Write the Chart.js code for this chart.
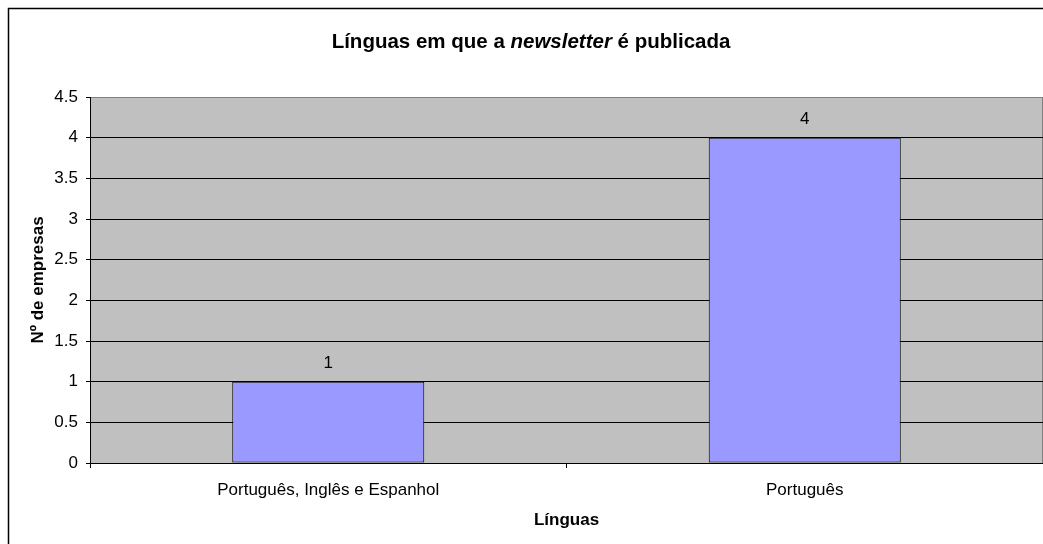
<!DOCTYPE html>
<html>
<head>
<meta charset="utf-8">
<script src="https://cdn.jsdelivr.net/npm/chart.js@4/dist/chart.umd.min.js"></script>
<style>
  body { margin: 0; background: #fff; }
  canvas { display: block; }
</style>
</head>
<body>
<canvas id="chart" width="1043" height="544"></canvas>
<script>
// chart data
const categories = ["Português, Inglês e Espanhol", "Português"];
const empresas = [1, 4];
const yTicks = [0, 0.5, 1, 1.5, 2, 2.5, 3, 3.5, 4, 4.5];

const titleParts = [
  { text: "Línguas em que a ", italic: false },
  { text: "newsletter", italic: true },
  { text: " é publicada", italic: false }
];

const FONT = "'Liberation Sans', Arial, sans-serif";

// background, plot area and outer frame
const backgroundPlugin = {
  id: "background",
  beforeDraw(chart) {
    const ctx = chart.ctx;
    const a = chart.chartArea;
    ctx.save();
    ctx.fillStyle = "#fff";
    ctx.fillRect(0, 0, chart.width, chart.height);
    ctx.strokeStyle = "#000";
    ctx.lineWidth = 1.5;
    ctx.strokeRect(8.5, 8.5, chart.width + 20, chart.height + 20);
    ctx.fillStyle = "#c0c0c0";
    ctx.fillRect(a.left, a.top, a.right - a.left, a.bottom - a.top);
    ctx.strokeStyle = "#808080";
    ctx.lineWidth = 1;
    ctx.strokeRect(a.left + 0.5, a.top + 0.5, a.right - a.left - 1, a.bottom - a.top);
    ctx.restore();
  }
};

// values above the bars and the mixed-style title
const labelsPlugin = {
  id: "labels",
  afterDatasetsDraw(chart) {
    const ctx = chart.ctx;
    const meta = chart.getDatasetMeta(0);
    ctx.save();
    ctx.fillStyle = "#000";
    ctx.font = "17px " + FONT;
    ctx.textAlign = "center";
    ctx.textBaseline = "middle";
    meta.data.forEach((bar, i) => {
      ctx.fillText(String(empresas[i]), bar.x, bar.y - 18);
    });
    ctx.restore();
  },
  afterDraw(chart) {
    const ctx = chart.ctx;
    ctx.save();
    ctx.fillStyle = "#000";
    ctx.textBaseline = "middle";
    ctx.textAlign = "left";
    const fonts = titleParts.map(p => (p.italic ? "italic " : "") + "bold 20.5px " + FONT);
    let total = 0;
    titleParts.forEach((p, i) => {
      ctx.font = fonts[i];
      total += ctx.measureText(p.text).width;
    });
    let x = 531 - total / 2;
    titleParts.forEach((p, i) => {
      ctx.font = fonts[i];
      ctx.fillText(p.text, x, 42);
      x += ctx.measureText(p.text).width;
    });
    ctx.restore();
  }
};

new Chart(document.getElementById("chart").getContext("2d"), {
  type: "bar",
  data: {
    labels: categories,
    datasets: [
      {
        label: "Nº de empresas",
        data: empresas,
        backgroundColor: "#9999ff",
        borderColor: "#000",
        borderWidth: 1,
        borderSkipped: false,
        categoryPercentage: 1,
        barPercentage: 0.403
      }
    ]
  },
  options: {
    responsive: false,
    animation: false,
    layout: { padding: { top: 97, left: 0, right: 0, bottom: 0 } },
    plugins: {
      legend: { display: false },
      title: { display: false },
      tooltip: { enabled: false }
    },
    scales: {
      x: {
        offset: true,
        afterFit(scale) { scale.height = 81; },
        grid: {
          offset: true,
          drawOnChartArea: false,
          drawTicks: true,
          tickLength: 5,
          tickColor: "#000"
        },
        border: { color: "#000", width: 1 },
        ticks: {
          color: "#000",
          padding: 12,
          maxRotation: 0,
          font: { family: FONT, size: 17 }
        },
        title: {
          display: true,
          text: "Línguas",
          color: "#000",
          padding: { top: 0, bottom: 13 },
          font: { family: FONT, size: 17, weight: "bold" }
        }
      },
      y: {
        min: 0,
        max: 4.5,
        afterFit(scale) { scale.width = 90; },
        afterBuildTicks(scale) {
          scale.ticks = yTicks.map(v => ({ value: v }));
        },
        grid: {
          color: ctx => (ctx.tick && ctx.tick.value === 4.5 ? "#808080" : "#000"),
          lineWidth: 1,
          tickLength: 4,
          tickColor: "#000"
        },
        border: { color: "#000", width: 1 },
        ticks: {
          color: "#000",
          padding: 8,
          font: { family: FONT, size: 17 },
          callback: v => String(v)
        },
        title: {
          display: true,
          text: "Nº de empresas",
          color: "#000",
          padding: { top: 28, bottom: 0 },
          font: { family: FONT, size: 17, weight: "bold" }
        }
      }
    }
  },
  plugins: [backgroundPlugin, labelsPlugin]
});
</script>
</body>
</html>
